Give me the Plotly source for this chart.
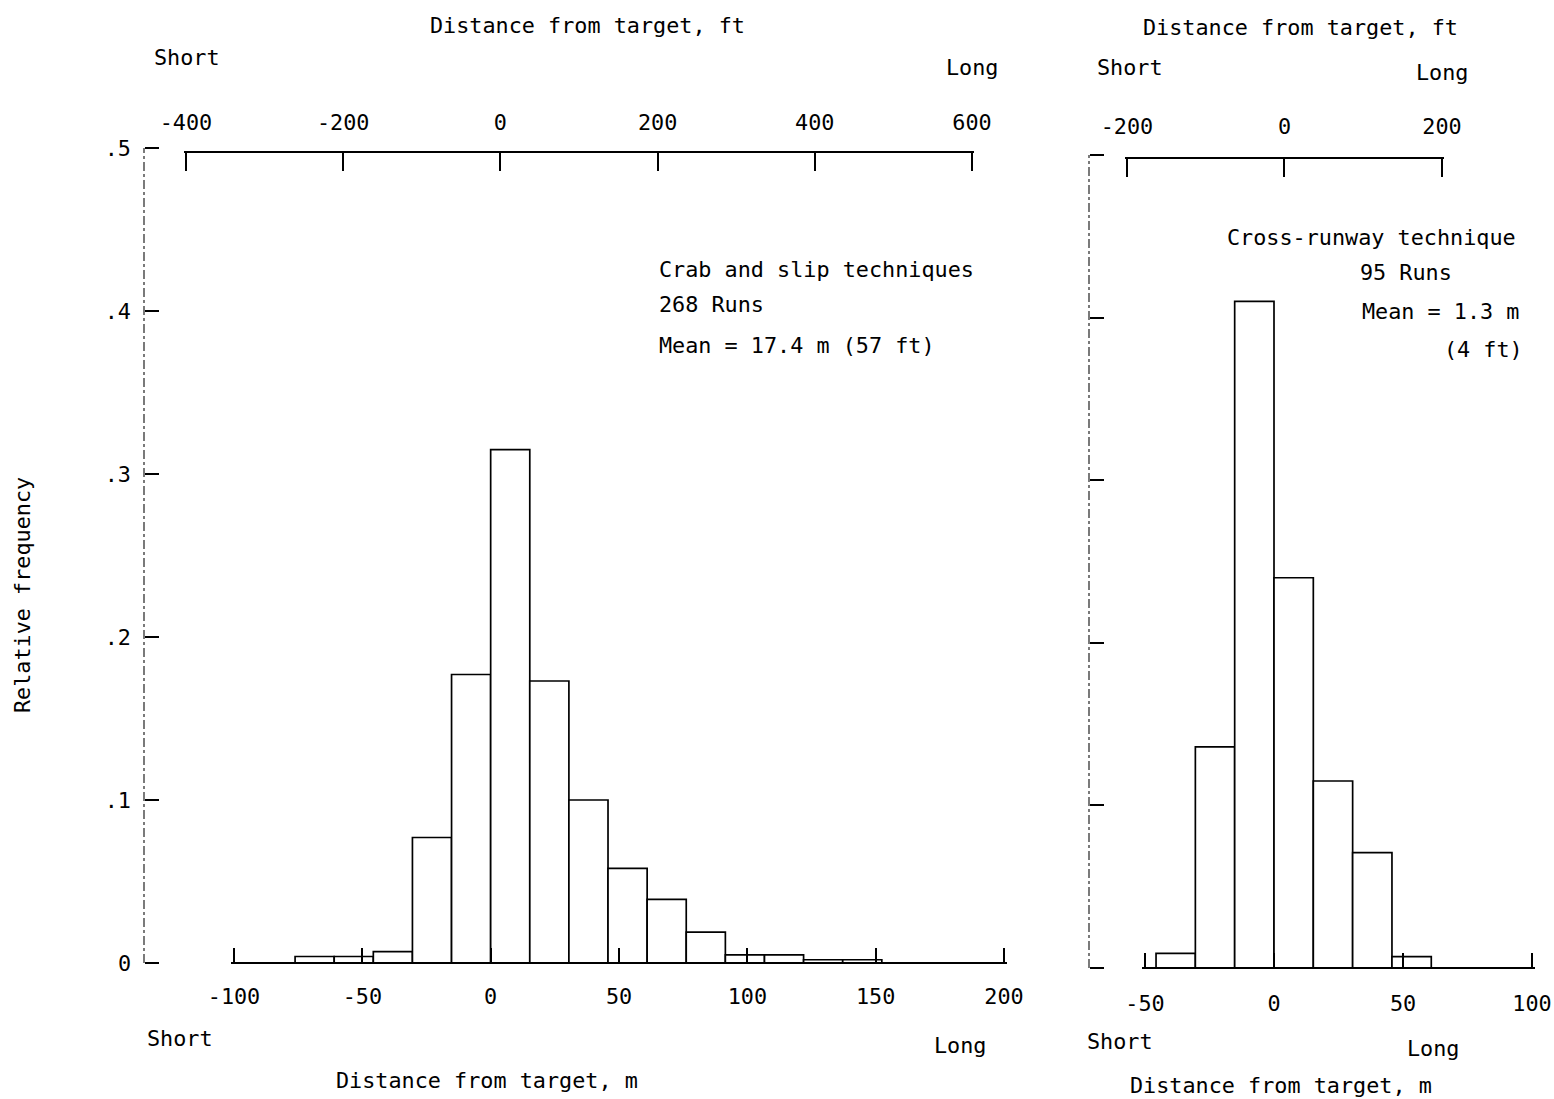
import plotly.graph_objects as go

W, H = 1554, 1099
FONT = "DejaVu Sans Mono"
FS = 21.8

# ---- data ----
bin_width_m = 15.24  # 50 ft bins
left_bin_lo = [-76.2, -60.96, -45.72, -30.48, -15.24, 0.0, 15.24, 30.48,
               45.72, 60.96, 76.2, 91.44, 106.68, 121.92, 137.16]
left_freq = [0.004, 0.004, 0.007, 0.077, 0.177, 0.315, 0.173, 0.100,
             0.058, 0.039, 0.019, 0.005, 0.005, 0.002, 0.002]

right_bin_lo = [-45.72, -30.48, -15.24, 0.0, 15.24, 30.48, 45.72]
right_freq = [0.009, 0.136, 0.410, 0.240, 0.115, 0.071, 0.007]

y_ticks = [0, 0.1, 0.2, 0.3, 0.4, 0.5]
y_tick_text = ["0", ".1", ".2", ".3", ".4", ".5"]
left_m_ticks = [-100, -50, 0, 50, 100, 150, 200]
left_ft_ticks = [-400, -200, 0, 200, 400, 600]
right_m_ticks = [-50, 0, 50, 100]
right_ft_ticks = [-200, 0, 200]


def px(x):
    return x / W


def py(y):
    return 1 - y / H


def xspan(p0, p1, v0, v1, pad):
    """domain/range for a horizontal axis whose values v0, v1 sit at pixels p0, p1"""
    s = (p1 - p0) / (v1 - v0)
    return dict(domain=[px(p0 - pad * s), px(p1 + pad * s)], range=[v0 - pad, v1 + pad])


def yspan(p0, p1, v0, v1, pad):
    """p0 is the pixel row of v0 (bottom), p1 of v1 (top)"""
    s = (p0 - p1) / (v1 - v0)
    return dict(domain=[py(p0 + pad * s), py(p1 - pad * s)], range=[v0 - pad, v1 + pad])


fig = go.Figure()

bar_style = dict(marker=dict(color="white", line=dict(color="black", width=1.7)),
                 showlegend=False, hoverinfo="skip")

fig.add_trace(go.Bar(x=[v + bin_width_m / 2 for v in left_bin_lo], y=left_freq,
                     width=[bin_width_m] * len(left_bin_lo),
                     xaxis="x", yaxis="y", **bar_style))
fig.add_trace(go.Bar(x=[v + bin_width_m / 2 for v in right_bin_lo], y=right_freq,
                     width=[bin_width_m] * len(right_bin_lo),
                     xaxis="x3", yaxis="y2", **bar_style))
# carriers for the feet axes
fig.add_trace(go.Scatter(x=left_ft_ticks, y=[None] * len(left_ft_ticks),
                         xaxis="x2", yaxis="y", showlegend=False, hoverinfo="skip"))
fig.add_trace(go.Scatter(x=right_ft_ticks, y=[None] * len(right_ft_ticks),
                         xaxis="x4", yaxis="y2", showlegend=False, hoverinfo="skip"))

tickfont = dict(family=FONT, size=FS, color="black")
common_x = dict(showgrid=False, zeroline=False, showline=True, linecolor="black",
                linewidth=2, ticks="inside", tickcolor="black", tickwidth=1.5,
                tickfont=tickfont, fixedrange=True, automargin=False, anchor="free")
common_y = dict(showgrid=False, zeroline=False, showline=False, anchor="free",
                ticks="inside", ticklen=14, tickwidth=1.5, tickcolor="black",
                tickvals=y_ticks, tickfont=tickfont, fixedrange=True, automargin=False)

fig.update_layout(
    template="none",
    width=W, height=H,
    margin=dict(l=0, r=0, t=0, b=0, pad=0, autoexpand=False),
    paper_bgcolor="white", plot_bgcolor="rgba(0,0,0,0)",
    font=dict(family=FONT, size=FS, color="black"),
    barmode="overlay",
    showlegend=False,
    xaxis=dict(**xspan(234, 1004, left_m_ticks[0], left_m_ticks[-1], 1.0),
               position=py(963), tickvals=left_m_ticks,
               ticktext=[str(v) for v in left_m_ticks],
               ticklen=14, ticklabelstandoff=14, **common_x),
    xaxis2=dict(**xspan(186, 972, left_ft_ticks[0], left_ft_ticks[-1], 3.0),
                position=py(152), side="top", tickvals=left_ft_ticks,
                ticktext=[str(v) for v in left_ft_ticks],
                ticklen=18, ticklabelstandoff=12, **common_x),
    xaxis3=dict(**xspan(1145, 1532, right_m_ticks[0], right_m_ticks[-1], 1.0),
                position=py(968), tickvals=right_m_ticks,
                ticktext=[str(v) for v in right_m_ticks],
                ticklen=14, ticklabelstandoff=16, **common_x),
    xaxis4=dict(**xspan(1127, 1442, right_ft_ticks[0], right_ft_ticks[-1], 3.0),
                position=py(158), side="top", tickvals=right_ft_ticks,
                ticktext=[str(v) for v in right_ft_ticks],
                ticklen=18, ticklabelstandoff=14, **common_x),
    yaxis=dict(**yspan(963, 148, y_ticks[0], y_ticks[-1], 0.0015),
               position=px(144), ticktext=y_tick_text, ticklabelstandoff=13, **common_y),
    yaxis2=dict(**yspan(968, 155, y_ticks[0], y_ticks[-1], 0.0015),
                position=px(1089), showticklabels=False, **common_y),
)

# dashed vertical frequency axes
fig.add_shape(type="line", xref="paper", x0=px(144), x1=px(144), yref="y",
              y0=y_ticks[0], y1=y_ticks[-1], line=dict(color="#333", width=1.3, dash="dashdot"))
fig.add_shape(type="line", xref="paper", x0=px(1089), x1=px(1089), yref="y2",
              y0=y_ticks[0], y1=y_ticks[-1], line=dict(color="#333", width=1.3, dash="dashdot"))


def ann(text, x, y, xanchor="center", angle=0):
    fig.add_annotation(text=text, x=px(x), y=py(y), xref="paper", yref="paper",
                       xanchor=xanchor, yanchor="middle", showarrow=False,
                       textangle=angle, font=dict(family=FONT, size=FS, color="black"))


# left panel texts
ann("Distance from target, ft", 587, 25)
ann("Short", 187, 57)
ann("Long", 972, 68)
ann("Crab and slip techniques", 657, 269, "left")
ann("268 Runs", 657, 305, "left")
ann("Mean = 17.4 m (57 ft)", 657, 345, "left")
ann("Short", 180, 1038)
ann("Long", 961, 1045)
ann("Distance from target, m", 487, 1080)
ann("Relative frequency", 22, 595, angle=-90)

# right panel texts
ann("Distance from target, ft", 1300, 28)
ann("Short", 1130, 67)
ann("Long", 1442, 72)
ann("Cross-runway technique", 1371, 238)
ann("95 Runs", 1406, 272)
ann("Mean = 1.3 m", 1360, 312, "left")
ann("(4 ft)", 1525, 350, "right")
ann("Short", 1120, 1041)
ann("Long", 1433, 1048)
ann("Distance from target, m", 1281, 1085)

fig.write_html(
    "out.html",
    config={"displayModeBar": False},
    post_script="document.body.style.margin='0px';document.body.style.overflow='hidden';",
)
